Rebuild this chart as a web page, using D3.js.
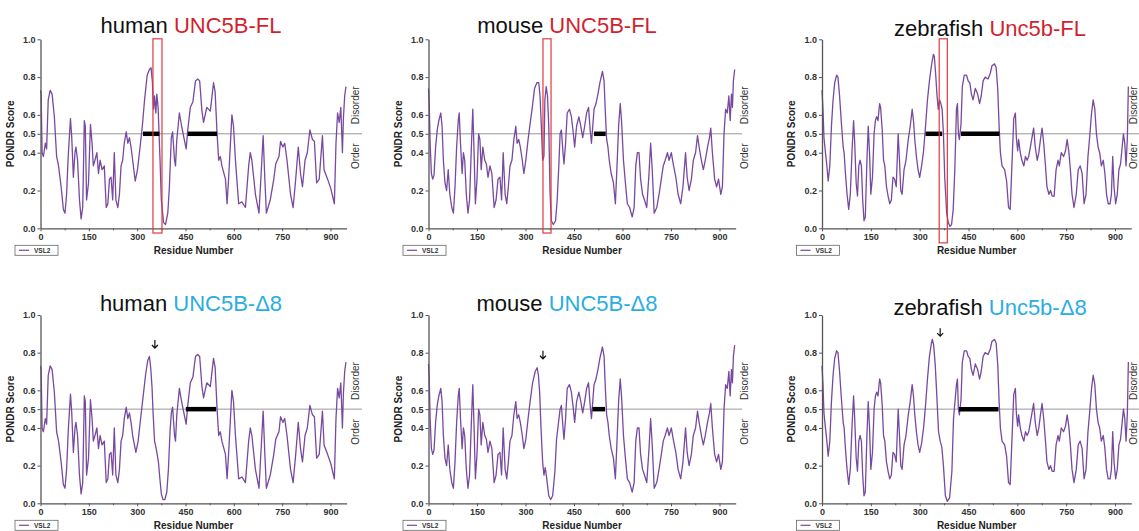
<!DOCTYPE html>
<html>
<head>
<meta charset="utf-8">
<script src="https://cdn.jsdelivr.net/npm/d3@7"></script>
<style>
  body { margin: 0; background: #fff; }
  svg { display: block; font-family: "Liberation Sans", Arial, sans-serif; }
</style>
</head>
<body>
<svg width="1139" height="531"></svg>
<script>
// ---- data: [residue, PONDR VSL2 score] ----
var humanHead = [[0,0.73],[2,0.71],[5,0.40],[9,0.38],[15,0.45],[19,0.42],[24,0.68],[30,0.73],[36,0.71],[43,0.59],[50,0.38],[56,0.33],[64,0.22],[71,0.10],[76,0.08],[81,0.18],[86,0.38],[93,0.58],[97,0.48],[102,0.27],[107,0.40],[110,0.43],[115,0.36],[121,0.15],[126,0.05],[131,0.11],[136,0.57],[139,0.54],[143,0.15],[149,0.24],[155,0.55],[160,0.45],[164,0.33],[169,0.36],[175,0.40],[180,0.29],[185,0.36],[191,0.31],[198,0.33],[204,0.11],[209,0.13],[214,0.26],[219,0.27],[224,0.15],[229,0.40],[234,0.15],[240,0.11],[245,0.18],[250,0.33],[255,0.36],[260,0.45],[266,0.51],[271,0.45],[276,0.48],[281,0.43],[286,0.36]];
var humanFLMid = [[294,0.25],[301,0.31],[309,0.43],[316,0.54],[323,0.68],[331,0.81],[338,0.84],[343,0.85],[347,0.78],[351,0.63],[354,0.70],[358,0.61],[361,0.71],[365,0.64],[371,0.36],[375,0.15],[382,0.03],[388,0.02],[395,0.08],[400,0.22],[406,0.48]];
var humanD8Mid = [[296,0.27],[303,0.33],[310,0.44],[318,0.56],[326,0.68],[333,0.76],[338,0.78],[342,0.72],[346,0.62],[350,0.46],[354,0.33],[358,0.30],[362,0.26],[366,0.22],[370,0.14],[375,0.05],[380,0.02],[386,0.02],[392,0.06],[397,0.18],[402,0.38],[406,0.48]];
var humanTail = [[410,0.51],[416,0.36],[419,0.33],[423,0.47],[431,0.61],[438,0.54],[445,0.48],[452,0.42],[457,0.52],[465,0.64],[473,0.67],[481,0.78],[488,0.79],[494,0.78],[501,0.62],[506,0.56],[516,0.64],[527,0.62],[537,0.77],[542,0.72],[548,0.50],[553,0.36],[558,0.38],[563,0.33],[574,0.26],[579,0.13],[584,0.27],[594,0.60],[599,0.54],[605,0.36],[615,0.13],[625,0.14],[636,0.11],[646,0.33],[651,0.40],[656,0.36],[667,0.18],[678,0.08],[686,0.33],[691,0.49],[696,0.27],[701,0.08],[713,0.15],[724,0.26],[730,0.34],[740,0.38],[745,0.46],[752,0.43],[758,0.45],[765,0.36],[776,0.18],[784,0.11],[792,0.26],[800,0.43],[807,0.29],[813,0.22],[821,0.36],[828,0.40],[836,0.52],[844,0.47],[850,0.46],[857,0.24],[865,0.26],[875,0.49],[880,0.31],[891,0.26],[901,0.21],[912,0.13],[917,0.45],[922,0.61],[927,0.56],[932,0.64],[937,0.40],[940,0.58],[944,0.70],[948,0.75]];

var mouseHead = [[0,0.74],[2,0.68],[5,0.45],[9,0.29],[13,0.26],[17,0.28],[22,0.43],[27,0.52],[32,0.57],[38,0.61],[42,0.54],[46,0.36],[51,0.24],[56,0.20],[61,0.31],[66,0.18],[72,0.11],[77,0.08],[82,0.22],[87,0.43],[92,0.57],[95,0.61],[99,0.45],[104,0.29],[108,0.40],[112,0.36],[117,0.18],[122,0.08],[127,0.15],[133,0.45],[137,0.63],[141,0.40],[145,0.13],[150,0.26],[155,0.50],[159,0.47],[163,0.31],[168,0.43],[174,0.36],[179,0.34],[184,0.27],[190,0.33],[196,0.29],[203,0.11],[209,0.15],[215,0.26],[221,0.27],[226,0.15],[231,0.40],[237,0.18],[242,0.13],[247,0.22],[252,0.33],[258,0.36],[264,0.47],[270,0.54],[274,0.45],[279,0.47],[284,0.43],[290,0.36]];
var mouseFLMid = [[295,0.29],[301,0.36],[308,0.47],[314,0.55],[321,0.64],[328,0.74],[335,0.77],[341,0.77],[345,0.70],[349,0.54],[353,0.36],[357,0.38],[360,0.68],[364,0.75],[368,0.70],[372,0.54],[376,0.18],[380,0.04],[386,0.02],[393,0.04],[398,0.15],[403,0.33]];
var mouseD8Mid = [[295,0.29],[301,0.34],[308,0.45],[315,0.55],[322,0.64],[330,0.70],[336,0.72],[340,0.68],[344,0.58],[348,0.40],[353,0.22],[357,0.15],[361,0.19],[365,0.14],[372,0.04],[378,0.02],[384,0.04],[391,0.17],[396,0.34]];
var mouseTail = [[407,0.50],[411,0.52],[416,0.40],[419,0.34],[424,0.45],[429,0.61],[436,0.63],[442,0.59],[448,0.50],[452,0.43],[458,0.54],[465,0.59],[470,0.55],[477,0.48],[483,0.54],[489,0.61],[495,0.64],[500,0.52],[504,0.45],[508,0.54],[512,0.63],[518,0.66],[524,0.71],[530,0.77],[538,0.83],[543,0.78],[547,0.61],[551,0.47],[555,0.43],[559,0.36],[565,0.29],[572,0.24],[578,0.13],[583,0.33],[588,0.54],[593,0.66],[597,0.57],[603,0.36],[609,0.24],[615,0.13],[622,0.11],[630,0.06],[636,0.11],[641,0.33],[646,0.40],[651,0.40],[656,0.26],[662,0.18],[668,0.15],[675,0.11],[682,0.29],[687,0.45],[692,0.31],[698,0.08],[706,0.11],[713,0.18],[720,0.26],[726,0.33],[732,0.36],[739,0.40],[744,0.36],[751,0.40],[757,0.34],[765,0.27],[772,0.18],[780,0.13],[787,0.22],[795,0.40],[800,0.27],[806,0.20],[813,0.26],[819,0.36],[826,0.40],[832,0.49],[837,0.43],[844,0.36],[850,0.31],[856,0.36],[863,0.43],[869,0.48],[873,0.53],[878,0.40],[885,0.26],[891,0.22],[897,0.26],[904,0.18],[909,0.22],[914,0.50],[919,0.63],[924,0.61],[929,0.70],[933,0.57],[937,0.71],[940,0.64],[943,0.78],[947,0.84]];

var zebraHead = [[0,0.73],[3,0.63],[6,0.48],[10,0.41],[15,0.33],[19,0.25],[24,0.33],[29,0.54],[34,0.68],[39,0.77],[45,0.81],[49,0.80],[54,0.70],[59,0.57],[65,0.43],[68,0.40],[72,0.29],[77,0.18],[82,0.10],[87,0.18],[92,0.40],[97,0.57],[100,0.47],[105,0.24],[109,0.17],[113,0.33],[117,0.36],[121,0.33],[125,0.15],[129,0.04],[133,0.06],[138,0.36],[142,0.54],[146,0.40],[150,0.18],[155,0.27],[160,0.50],[164,0.57],[168,0.59],[172,0.57],[177,0.66],[180,0.64],[185,0.52],[189,0.36],[193,0.33],[198,0.22],[203,0.17],[208,0.13],[213,0.15],[218,0.27],[223,0.26],[228,0.22],[234,0.50],[238,0.36],[242,0.20],[246,0.18],[252,0.31],[258,0.36],[265,0.47],[271,0.54],[277,0.63],[281,0.57],[285,0.47],[290,0.38],[295,0.31],[300,0.27]];
var zebraFLMid = [[306,0.33],[312,0.41],[318,0.54],[324,0.68],[330,0.78],[336,0.86],[342,0.92],[345,0.91],[349,0.82],[353,0.71],[357,0.63],[361,0.68],[365,0.66],[369,0.63],[373,0.50],[377,0.27],[383,0.08],[388,0.03],[393,0.01],[398,0.02],[403,0.10],[408,0.31]];
var zebraD8Mid = [[306,0.32],[312,0.40],[318,0.52],[324,0.66],[330,0.78],[336,0.85],[339,0.87],[343,0.84],[348,0.73],[353,0.56],[358,0.38],[363,0.33],[368,0.30],[373,0.20],[379,0.04],[385,0.01],[392,0.03],[399,0.17],[404,0.45]];
var zebraTail = [[413,0.63],[416,0.66],[419,0.50],[422,0.47],[427,0.55],[431,0.75],[437,0.81],[444,0.81],[449,0.78],[454,0.77],[459,0.71],[464,0.68],[471,0.74],[478,0.71],[484,0.66],[489,0.70],[495,0.78],[501,0.80],[510,0.79],[517,0.82],[522,0.86],[530,0.87],[535,0.85],[540,0.73],[544,0.54],[548,0.40],[553,0.33],[561,0.31],[567,0.25],[573,0.11],[578,0.10],[584,0.36],[589,0.58],[594,0.61],[597,0.48],[601,0.41],[604,0.47],[609,0.40],[614,0.36],[620,0.33],[625,0.38],[630,0.36],[635,0.38],[640,0.43],[645,0.48],[650,0.53],[655,0.43],[661,0.36],[666,0.40],[671,0.47],[676,0.53],[681,0.45],[686,0.34],[691,0.22],[697,0.18],[702,0.20],[707,0.17],[713,0.17],[719,0.31],[725,0.36],[729,0.33],[735,0.40],[742,0.38],[748,0.41],[753,0.47],[758,0.41],[763,0.31],[768,0.18],[774,0.11],[781,0.18],[787,0.31],[793,0.33],[799,0.29],[805,0.13],[811,0.18],[817,0.38],[823,0.50],[828,0.61],[833,0.68],[838,0.63],[843,0.50],[848,0.43],[853,0.40],[858,0.33],[864,0.36],[869,0.29],[874,0.18],[879,0.13],[885,0.13],[889,0.18],[893,0.38],[897,0.22],[902,0.13],[907,0.18],[912,0.31],[917,0.34],[922,0.43],[926,0.50],[930,0.45],[934,0.33],[938,0.48],[941,0.75]];

// disordered stretches (black bars on the 0.5 line), residue ranges
var humanFLBars = [[318,369],[457,548]];
var mouseFLBars = [[512,548]];
var zebraFLBars = [[318,369],[427,545]];
var humanD8Bars = [[451,545]];
var mouseD8Bars = [[507,546]];
var zebraD8Bars = [[421,542]];

// red boxes (FL) and arrows (delta8): residue positions
var boxResidues = [[349,377],[354,379],[360,385]];
var boxBottoms = [-0.025, -0.025, -0.077];
var arrowResidues = [355, 354, 363];
var arrowTops = [0.867, 0.81, 0.93];

var speciesNames = ["human ", "mouse ", "zebrafish "];
var flNames = ["UNC5B-FL", "UNC5B-FL", "Unc5b-FL"];
var d8Names = ["UNC5B-\u03948", "UNC5B-\u03948", "Unc5b-\u03948"];
var yTicks = [0, 0.2, 0.4, 0.5, 0.6, 0.8, 1.0];
var xTicks = [0, 150, 300, 450, 600, 750, 900];
var xMinor = [75, 225, 375, 525, 675, 825];

var flSeries = [humanHead.concat(humanFLMid, humanTail),
                mouseHead.concat(mouseFLMid, mouseTail),
                zebraHead.concat(zebraFLMid, zebraTail)];
var d8Series = [humanHead.concat(humanD8Mid, humanTail),
                mouseHead.concat(mouseD8Mid, mouseTail),
                zebraHead.concat(zebraD8Mid, zebraTail)];
var flBars = [humanFLBars, mouseFLBars, zebraFLBars];
var d8Bars = [humanD8Bars, mouseD8Bars, zebraD8Bars];

// ---- layout ----
var svg = d3.select("svg");
var cols = [{x0: 40.5, w900: 290, refEnd: 362, sideX: 359, title: 191},
            {x0: 428.5, w900: 291, refEnd: 742, sideX: 748, title: 567},
            {x0: 822, w900: 293, refEnd: 1139, sideX: 1136.5, title: 990}];
var rows = [{top: 39.3, bottom: 228.3, titleY: [33, 33, 36]},
            {top: 315, bottom: 503.3, titleY: [311, 311, 315]}];

var purple = "#77499f", red = "#d21f30", cyan = "#2aaee2";

function drawPanel(col, row, series, bars, isFL, k) {
  var c = cols[col], r = rows[row];
  var x = d3.scaleLinear().domain([0, 900]).range([c.x0, c.x0 + c.w900]);
  var y = d3.scaleLinear().domain([0, 1]).range([r.bottom, r.top]);
  var g = svg.append("g");

  // title
  var t = g.append("text")
      .attr("x", c.title).attr("y", r.titleY[col])
      .attr("text-anchor", "middle")
      .style("font-size", "22px");
  t.append("tspan").attr("fill", "#111").text(speciesNames[k]);
  t.append("tspan").attr("fill", isFL ? red : cyan).text(isFL ? flNames[k] : d8Names[k]);

  // 0.5 threshold line
  g.append("line")
      .attr("x1", c.x0).attr("x2", c.refEnd)
      .attr("y1", y(0.5)).attr("y2", y(0.5))
      .attr("stroke", "#8c8c8c").attr("stroke-width", 0.9);

  // trace
  g.append("path")
      .datum(series)
      .attr("fill", "none")
      .attr("stroke", purple)
      .attr("stroke-width", 1.3)
      .attr("stroke-linejoin", "round")
      .attr("d", d3.line().x(function(d){ return x(d[0]); }).y(function(d){ return y(d[1]); }));

  // disorder bars
  g.selectAll(".bar")
    .data(bars)
    .enter().append("line")
      .attr("x1", function(d){ return x(d[0]); })
      .attr("x2", function(d){ return x(d[1]); })
      .attr("y1", y(0.5)).attr("y2", y(0.5))
      .attr("stroke", "#000").attr("stroke-width", 4.5);

  // x axis
  var xAxisScale = x.copy().domain([0, 950]).range([c.x0, x(950)]);
  g.append("g")
      .attr("transform", "translate(0," + r.bottom + ")")
      .call(d3.axisBottom(xAxisScale).tickValues(xTicks).tickSize(3).tickSizeOuter(0).tickPadding(2));
  g.append("g")
      .attr("transform", "translate(0," + r.bottom + ")")
      .call(d3.axisBottom(xAxisScale).tickValues(xMinor).tickSize(2).tickFormat(""))
      .select(".domain").remove();

  // y axis
  g.append("g")
      .attr("transform", "translate(" + c.x0 + ",0)")
      .call(d3.axisLeft(y).tickValues(yTicks).tickFormat(d3.format(".1f")).tickSize(3).tickSizeOuter(0).tickPadding(2));

  g.selectAll(".domain").attr("stroke", "#555").attr("stroke-width", 1.3);
  g.selectAll(".tick line").attr("stroke", "#555");
  g.selectAll(".tick text")
      .attr("fill", "#333")
      .style("font-size", "9px").style("font-weight", "bold")
      .style("font-family", "'Liberation Sans', Arial, sans-serif");

  // axis titles
  g.append("text")
      .attr("transform", "translate(" + (c.x0 - 27) + "," + y(0.5) + ") rotate(-90)")
      .attr("text-anchor", "middle")
      .attr("fill", "#222")
      .style("font-size", "10px").style("font-weight", "bold")
      .text("PONDR Score");
  g.append("text")
      .attr("x", x(475)).attr("y", r.bottom + 26)
      .attr("text-anchor", "middle")
      .attr("fill", "#222")
      .style("font-size", "10px").style("font-weight", "bold")
      .text("Residue Number");

  // Disorder / Order side labels
  g.append("text")
      .attr("transform", "translate(" + c.sideX + "," + (r.top + 66) + ") rotate(-90)")
      .attr("text-anchor", "middle").attr("fill", "#333")
      .style("font-size", "10px").text("Disorder");
  g.append("text")
      .attr("transform", "translate(" + c.sideX + "," + (r.top + 117) + ") rotate(-90)")
      .attr("text-anchor", "middle").attr("fill", "#333")
      .style("font-size", "10px").text("Order");

  // legend
  var lg = g.append("g").attr("transform", "translate(" + (c.x0 - 25.5) + "," + (r.bottom + 17) + ")");
  lg.append("rect").attr("width", 43).attr("height", 10)
      .attr("fill", "#fff").attr("stroke", "#666").attr("stroke-width", 0.8);
  lg.append("line").attr("x1", 4).attr("x2", 14).attr("y1", 5).attr("y2", 5)
      .attr("stroke", purple).attr("stroke-width", 1.2);
  lg.append("text").attr("x", 19).attr("y", 7.5)
      .attr("fill", "#333").style("font-size", "6.5px").style("font-weight", "bold").text("VSL2");

  if (isFL) {
    var b = boxResidues[k];
    g.append("rect")
        .attr("x", x(b[0])).attr("y", y(1.0) - 0.5)
        .attr("width", x(b[1]) - x(b[0]))
        .attr("height", y(boxBottoms[k]) - y(1.0) + 0.5)
        .attr("fill", "none").attr("stroke", "#e0383c").attr("stroke-width", 1.2);
  } else {
    var ax = x(arrowResidues[k]), ay = y(arrowTops[k]);
    g.append("path")
        .attr("d", "M" + ax + "," + ay + "V" + (ay + 8) + "M" + (ax - 3) + "," + (ay + 5) + "L" + ax + "," + (ay + 8) + "L" + (ax + 3) + "," + (ay + 5))
        .attr("fill", "none").attr("stroke", "#111").attr("stroke-width", 1.2);
  }
}

for (var k = 0; k < 3; k++) {
  drawPanel(k, 0, flSeries[k], flBars[k], true, k);
  drawPanel(k, 1, d8Series[k], d8Bars[k], false, k);
}
</script>
</body>
</html>
